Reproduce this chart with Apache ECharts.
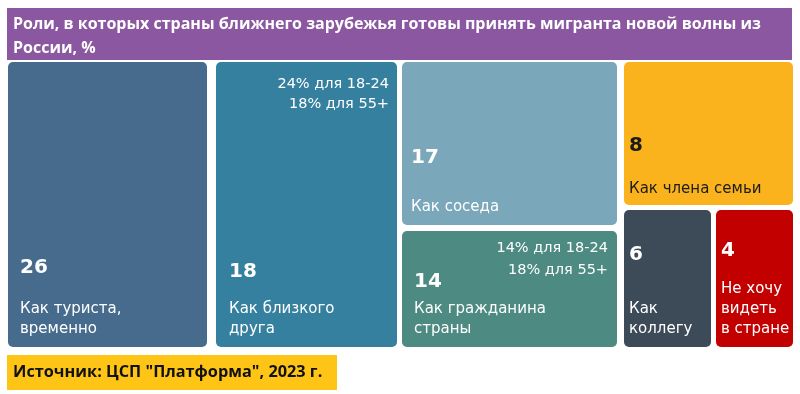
<!DOCTYPE html>
<html><head><meta charset="utf-8">
<script src="https://cdn.jsdelivr.net/npm/echarts@6/dist/echarts.min.js"></script>
<style>html,body{margin:0;padding:0;background:#fff}#c{width:800px;height:394px}</style>
</head><body><div id="c"></div>
<script>
// ---------- data ----------
const titleLines = ['Роли, в которых страны ближнего зарубежья готовы принять мигранта новой волны из', 'России, %'];
const sourceText = 'Источник: ЦСП "Платформа", 2023 г.';
const categories = ['Как туриста,\nвременно', 'Как близкого\nдруга', 'Как соседа', 'Как гражданина\nстраны', 'Как члена семьи', 'Как\nколлегу', 'Не хочу\nвидеть\nв стране'];
const values = [26, 18, 17, 14, 8, 6, 4];
const noteFriend = ['24% для 18-24', '18% для 55+'];
const noteCitizen = ['14% для 18-24', '18% для 55+'];
// one tile block per category (structure only)
const blocks = [[0], [1], [2], [3], [4], [5], [6]];

// ---------- styles / layout ----------
const colors = ['#476b8c', '#35809f', '#7aa7ba', '#4c8a82', '#fab31c', '#3d4a58', '#c20000'];
const textColors = ['#fff', '#fff', '#fff', '#fff', '#1b1b1b', '#fff', '#fff'];
const numLine = [62, 54, 78, 34, 66, 88, 56];
const padLeft = [12, 13, 9, 12, 5, 5, 5];
const padBottom = [8, 8, 8, 8, 6, 8, 8];
const TEXT_LH = 20;
// block boxes: [left, right, top, bottom]
const blockBoxes = [[8, 207, 62, 347], [216, 397, 62, 347], [402, 617, 62, 225], [402, 617, 231, 347],
                    [624, 793, 62, 205], [624, 711, 210, 347], [716, 793, 210, 347]];
const LABEL_FONT = 'DejaVu Sans';

const formatted = categories.map((c, i) =>
  '{n|' + values[i] + '}\n' + c.split('\n').map(s => '{t|' + s + '}').join('\n'));
const idxByText = {};
formatted.forEach((f, i) => { idxByText[f] = i; });

function leaf(i) {
  return {
    name: categories[i].replace(/\n/g, ' '),
    value: values[i],
    itemStyle: { color: colors[i] },
    label: {
      show: true,
      position: 'insideBottomLeft',
      distance: 0,
      overflow: 'none',
      padding: [0, 0, padBottom[i], padLeft[i]],
      formatter: formatted[i],
      rich: {
        n: { fontFamily: LABEL_FONT, fontWeight: 'bold', fontSize: 20, lineHeight: numLine[i], color: textColors[i] },
        t: { fontFamily: LABEL_FONT, fontSize: 15, lineHeight: TEXT_LH, color: textColors[i] }
      }
    }
  };
}

function bottomAlign(params) {
  const i = idxByText[params.text];
  if (i == null) return {};
  const n = categories[i].split('\n').length;
  return { dy: params.rect.height - padBottom[i] - numLine[i] - TEXT_LH * n };
}

const series = blocks.map((blk, bi) => ({
  type: 'treemap',
  left: blockBoxes[bi][0], top: blockBoxes[bi][2],
  width: blockBoxes[bi][1] - blockBoxes[bi][0], height: blockBoxes[bi][3] - blockBoxes[bi][2],
  roam: false, nodeClick: false, sort: false, squareRatio: 1,
  breadcrumb: { show: false },
  animation: false,
  itemStyle: { gapWidth: 0, borderWidth: 0, borderColor: '#fff', borderRadius: 5 },
  upperLabel: { show: false },
  emphasis: { disabled: true },
  labelLayout: bottomAlign,
  data: blk.map(leaf)
}));

const noteStyle = { fill: '#fff', font: '14.5px "DejaVu Sans"', align: 'right', verticalAlign: 'top' };

const chart = echarts.init(document.getElementById('c'), null, { renderer: 'canvas' });
chart.setOption({
  animation: false,
  title: [
    {
      text: titleLines.join('\n'), left: 7, top: 8, padding: [4, 6, 0, 6], backgroundColor: '#8b57a0',
      textStyle: { color: '#fff', fontFamily: 'Open Sans', fontWeight: 700, fontSize: 16, lineHeight: 24, width: 773 }
    },
    {
      text: sourceText, left: 7, top: 355, padding: [7, 8, 7, 6], backgroundColor: '#ffc516',
      textStyle: { color: '#111', fontFamily: 'Open Sans', fontWeight: 700, fontSize: 16.3, lineHeight: 21, width: 316 }
    }
  ],
  series: series,
  graphic: [
    { type: 'text', z: 100, x: blockBoxes[1][1] - 8, y: blockBoxes[1][2] + 12, style: Object.assign({ text: noteFriend.join('\n'), lineHeight: 20 }, noteStyle) },
    { type: 'text', z: 100, x: blockBoxes[3][1] - 9, y: blockBoxes[3][2] + 6, style: Object.assign({ text: noteCitizen.join('\n'), lineHeight: 22 }, noteStyle) }
  ]
});
</script></body></html>
